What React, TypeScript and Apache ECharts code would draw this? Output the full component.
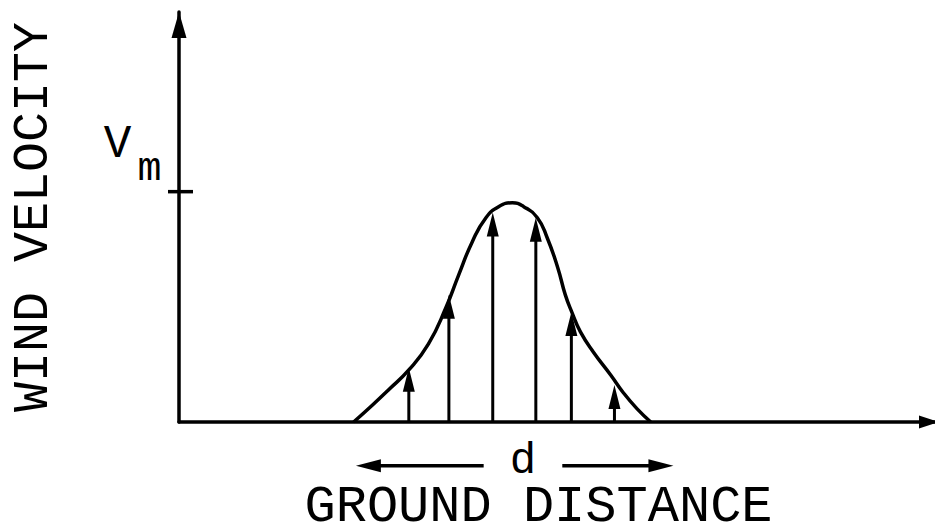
import React, { useEffect, useRef } from "react";
import * as echarts from "echarts";

// Wind velocity profile across the ground track (V_m = 1)
const groundDistance = [
  23.1, 25.6, 27.7, 30.4, 33.0, 35.3, 37.0, 38.8, 40.6, 42.3, 44.1, 45.6,
  47.4, 48.7, 50.1, 51.1, 52.0, 53.1, 54.8, 57.1, 58.8, 60.6, 62.4,
];
const windVelocity = [
  0, 0.074, 0.139, 0.226, 0.339, 0.496, 0.639, 0.783, 0.887, 0.935, 0.952,
  0.935, 0.887, 0.8, 0.67, 0.552, 0.474, 0.391, 0.304, 0.204, 0.126, 0.057, 0,
];

// Sampled velocity vectors
const arrowDistance = [30.4, 35.7, 41.5, 47.2, 51.9, 57.6];
const arrowVelocity = [0.235, 0.552, 0.909, 0.887, 0.478, 0.161];

// Maximum velocity marker on the vertical axis
const peakVelocity = [1];

// Width "d" of the disturbance, drawn under the ground axis
const dArrowFrom = [40.3, 50.7];
const dArrowTo = [23.4, 65.4];
const dLabelDistance = 45.5;
const dRowLevel = -0.19;

const FONT = "'Liberation Mono', 'DejaVu Sans Mono', monospace";
const INK = "#000";

export default function App() {
  const ref = useRef<HTMLDivElement>(null);

  useEffect(() => {
    if (!ref.current) return;
    const chart = echarts.init(ref.current, null, { renderer: "svg" });

    const curve = groundDistance.map((x, i) => [x, windVelocity[i]]);
    const vectors = arrowDistance.map((x, i) => [x, arrowVelocity[i]]);
    const dArrows = dArrowFrom.map((x, i) => [x, dArrowTo[i], dRowLevel]);

    chart.setOption({
      animation: false,
      backgroundColor: "#fff",
      grid: {
        left: 179,
        right: 0,
        top: 12,
        bottom: 105,
        containLabel: false,
        outerBoundsMode: "none",
      },
      xAxis: {
        type: "value",
        min: 0,
        max: 100,
        name: "GROUND DISTANCE",
        nameLocation: "middle",
        nameGap: 70,
        nameTextStyle: {
          fontFamily: FONT,
          fontSize: 52,
          lineHeight: 30,
          color: INK,
          padding: [0, 37, 0, 0],
        },
        splitLine: { show: false },
        axisTick: { show: false },
        axisLabel: { show: false },
        axisLine: {
          show: true,
          onZero: false,
          symbol: ["none", "triangle"],
          symbolSize: [13, 20],
          symbolOffset: [0, -6],
          lineStyle: { color: INK, width: 3.5 },
        },
      },
      yAxis: {
        type: "value",
        min: 0,
        max: 1.78,
        name: "WIND VELOCITY",
        nameLocation: "middle",
        nameGap: 121,
        nameTextStyle: { fontFamily: FONT, fontSize: 50, color: INK },
        splitLine: { show: false },
        axisTick: { show: false },
        axisLabel: { show: false },
        axisLine: {
          show: true,
          symbol: ["none", "triangle"],
          symbolSize: [15, 26],
          symbolOffset: [0, -13],
          lineStyle: { color: INK, width: 3.5 },
        },
      },
      series: [
        {
          type: "line",
          data: curve,
          smooth: 0.5,
          showSymbol: false,
          silent: true,
          lineStyle: { color: INK, width: 3.5 },
        },
        {
          // velocity vectors standing on the ground axis
          type: "custom",
          data: vectors,
          silent: true,
          renderItem: (params: any, api: any) => {
            const base = api.coord([api.value(0), 0]);
            const tip = api.coord([api.value(0), api.value(1)]);
            const headLen = 24;
            const headHalf = 6;
            return {
              type: "group",
              children: [
                {
                  type: "line",
                  shape: { x1: base[0], y1: base[1], x2: tip[0], y2: tip[1] + headLen - 2 },
                  style: { stroke: INK, lineWidth: 3 },
                },
                {
                  type: "polygon",
                  shape: {
                    points: [
                      [tip[0], tip[1]],
                      [tip[0] - headHalf, tip[1] + headLen],
                      [tip[0] + headHalf, tip[1] + headLen],
                    ],
                  },
                  style: { fill: INK },
                },
              ],
            };
          },
        },
        {
          // V_m tick and label on the vertical axis
          type: "custom",
          data: peakVelocity.map((v) => [0, v]),
          silent: true,
          renderItem: (params: any, api: any) => {
            const p = api.coord([api.value(0), api.value(1)]);
            return {
              type: "group",
              children: [
                {
                  type: "line",
                  shape: { x1: p[0] - 11, y1: p[1], x2: p[0] + 14, y2: p[1] },
                  style: { stroke: INK, lineWidth: 3.5 },
                },
                {
                  type: "text",
                  x: p[0] - 61.5,
                  y: p[1] - 47,
                  style: {
                    text: "V",
                    fontFamily: FONT,
                    fontSize: 46,
                    fill: INK,
                    align: "center",
                    verticalAlign: "middle",
                  },
                },
                {
                  type: "text",
                  x: p[0] - 29.5,
                  y: p[1] - 22,
                  style: {
                    text: "m",
                    fontFamily: FONT,
                    fontSize: 40,
                    fill: INK,
                    align: "center",
                    verticalAlign: "middle",
                  },
                },
              ],
            };
          },
        },
        {
          // the width d with its two arrows
          type: "custom",
          data: dArrows,
          silent: true,
          encode: { x: [0, 1], y: 2 },
          renderItem: (params: any, api: any) => {
            const from = api.coord([api.value(0), api.value(2)]);
            const to = api.coord([api.value(1), api.value(2)]);
            const dir = to[0] > from[0] ? 1 : -1;
            const headLen = 25;
            const headHalf = 6.5;
            const children: any[] = [
              {
                type: "line",
                shape: { x1: from[0], y1: from[1], x2: to[0] - dir * (headLen - 2), y2: to[1] },
                style: { stroke: INK, lineWidth: 3.5 },
              },
              {
                type: "polygon",
                shape: {
                  points: [
                    [to[0], to[1]],
                    [to[0] - dir * headLen, to[1] - headHalf],
                    [to[0] - dir * headLen, to[1] + headHalf],
                  ],
                },
                style: { fill: INK },
              },
            ];
            if (params.dataIndex === 0) {
              const c = api.coord([dLabelDistance, api.value(2)]);
              children.push({
                type: "text",
                x: c[0],
                y: c[1] - 5,
                style: {
                  text: "d",
                  fontFamily: FONT,
                  fontSize: 44,
                  lineHeight: 34,
                  fill: INK,
                  align: "center",
                  verticalAlign: "middle",
                },
              });
            }
            return { type: "group", children };
          },
        },
      ],
    });

    return () => chart.dispose();
  }, []);

  return (
    <div
      ref={ref}
      style={{
        position: "fixed",
        left: 0,
        top: 0,
        width: 935,
        height: 527,
        background: "#fff",
      }}
    />
  );
}
